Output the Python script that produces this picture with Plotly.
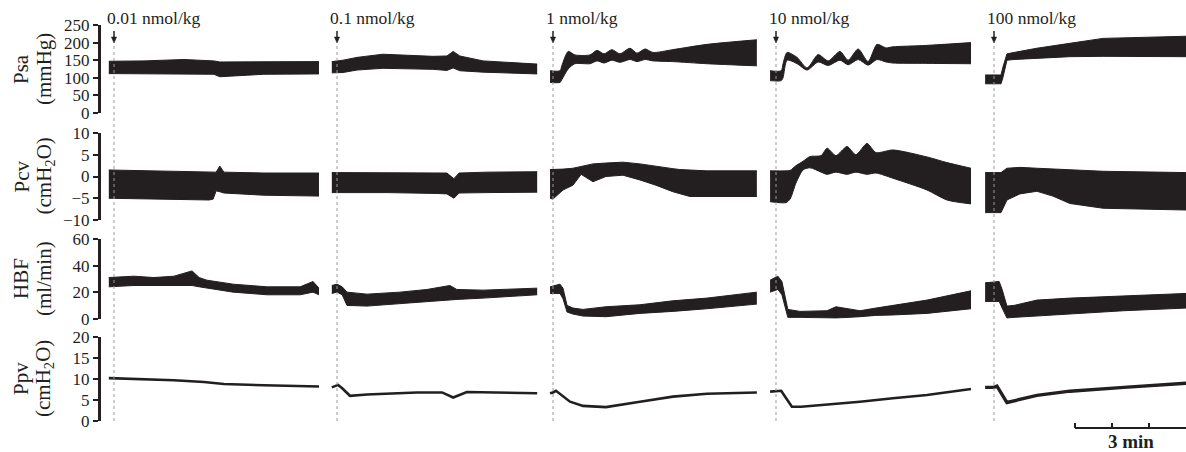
import plotly.graph_objects as go

# ---------------- data (time in minutes relative to each injection) ----------------
doses = ["0.01 nmol/kg", "0.1 nmol/kg", "1 nmol/kg", "10 nmol/kg", "100 nmol/kg"]

# Psa (mmHg): upper / lower envelope of the pulsatile trace
psa_time = [
    [-0.14, 0.81, 1.89, 2.70, 2.86, 4.05, 5.54],
    [-0.14, 0.16, 0.54, 1.24, 2.59, 2.97, 3.14, 3.32, 3.95, 5.41],
    [-0.08, 0.19, 0.24, 0.41, 0.59, 1.00, 1.19, 1.38, 1.59, 1.81, 2.08, 2.27, 2.49, 2.70, 3.24, 4.16, 5.51],
    [-0.16, 0.14, 0.19, 0.30, 0.57, 0.84, 1.14, 1.41, 1.73, 1.95, 2.22, 2.49, 2.73, 2.97, 3.16, 4.05, 5.27],
    [-0.24, 0.19, 0.24, 0.35, 0.54, 1.16, 2.05, 2.95, 5.19],
]
psa_upper = [
    [147, 148, 152, 148, 145, 146, 146],
    [146, 150, 158, 167, 161, 162, 175, 162, 148, 139],
    [120, 120, 135, 175, 165, 165, 178, 168, 180, 168, 184, 170, 182, 172, 180, 195, 208],
    [120, 120, 140, 172, 158, 128, 166, 148, 175, 150, 182, 146, 195, 185, 188, 192, 200],
    [108, 108, 130, 168, 172, 184, 198, 212, 218],
]
psa_lower = [
    [112, 112, 112, 110, 103, 110, 111],
    [114, 115, 122, 127, 124, 121, 128, 120, 116, 111],
    [87, 87, 95, 125, 140, 140, 148, 142, 150, 144, 152, 146, 152, 148, 146, 140, 134],
    [92, 92, 100, 150, 140, 122, 145, 135, 150, 137, 152, 136, 152, 145, 142, 141, 140],
    [83, 83, 100, 150, 152, 156, 160, 161, 160],
]

# Pcv (cmH2O)
pcv_time = [
    [-0.14, 1.35, 2.57, 2.68, 2.76, 2.86, 2.97, 4.05, 5.54],
    [-0.14, 1.35, 2.70, 2.97, 3.16, 3.30, 4.05, 5.41],
    [-0.08, 0.00, 0.27, 0.54, 0.76, 0.95, 1.08, 1.43, 1.89, 2.35, 2.78, 3.24, 3.43, 3.70, 4.16, 5.51],
    [-0.16, 0.27, 0.38, 0.54, 0.73, 0.92, 1.22, 1.38, 1.62, 1.92, 2.16, 2.46, 2.70, 3.16, 4.08, 4.62, 5.27],
    [-0.24, 0.19, 0.35, 0.70, 1.16, 1.59, 2.05, 2.95, 5.19],
]
pcv_upper = [
    [1.5, 1.3, 1.1, 1.0, 1.0, 2.4, 1.0, 0.8, 0.8],
    [0.9, 0.8, 0.8, 0.8, -0.5, 0.8, 1.0, 1.1],
    [1.6, 1.6, 1.7, 1.9, 2.3, 2.6, 2.9, 3.1, 3.3, 2.9, 2.3, 1.8, 1.6, 1.5, 1.3, 1.3],
    [1.3, 1.3, 1.4, 2.5, 3.5, 4.6, 4.8, 6.5, 4.8, 6.9, 5.0, 7.6, 5.5, 6.1, 4.5, 3.2, 1.9],
    [0.9, 0.9, 1.9, 2.1, 1.9, 1.7, 1.5, 1.2, 0.9],
]
pcv_lower = [
    [-5.0, -5.2, -5.4, -5.2, -3.3, -3.5, -3.8, -4.3, -4.5],
    [-3.7, -3.7, -3.9, -4.0, -5.0, -3.8, -3.7, -3.6],
    [-5.0, -5.2, -3.1, -2.0, 0.5, -0.5, -1.2, 0.0, 0.3, -0.8, -2.0, -3.5, -4.0, -4.6, -4.6, -4.6],
    [-5.8, -6.0, -5.2, -1.5, 1.5, 2.0, 1.0, 0.5, 1.0, 0.5, 1.0, 0.5, 0.8, -0.4, -3.1, -5.4, -6.3],
    [-8.3, -8.3, -5.4, -4.0, -3.4, -4.5, -6.2, -7.3, -7.7],
]

# HBF (ml/min)
hbf_time = [
    [-0.14, 0.54, 1.08, 1.62, 2.11, 2.30, 2.51, 3.22, 4.14, 5.03, 5.38, 5.54],
    [-0.14, 0.00, 0.14, 0.27, 0.81, 1.70, 2.43, 3.05, 3.24, 3.95, 5.41],
    [-0.08, 0.19, 0.27, 0.38, 0.54, 0.81, 1.43, 2.35, 3.24, 4.16, 5.51],
    [-0.16, 0.05, 0.16, 0.32, 0.65, 1.38, 1.62, 2.27, 2.70, 3.16, 4.08, 5.27],
    [-0.24, 0.14, 0.22, 0.35, 0.54, 1.16, 2.05, 3.51, 5.19],
]
hbf_upper = [
    [31, 32, 31, 32, 36, 31, 29, 26, 24, 24, 28, 23],
    [25, 26, 24, 20, 18.5, 20, 22, 25, 22, 21.5, 23],
    [24, 26, 23, 10, 8, 7, 9, 10.5, 13.5, 15.5, 20],
    [29, 32, 28, 7, 5.5, 6, 9, 6, 8, 10, 14, 21],
    [27, 28, 22, 9.5, 10, 14, 15.5, 17, 19],
]
hbf_lower = [
    [24, 25, 25, 25, 25, 24, 23, 20, 18, 18, 20, 18],
    [19, 20, 18, 10, 9.5, 11.5, 13, 14, 14.5, 15.5, 18],
    [19, 19, 15, 5, 3.5, 2, 1.5, 4, 5.5, 7.5, 11],
    [20, 22, 18, 1, 1, 1, 0.5, 1.5, 2.5, 2.8, 4, 7.5],
    [13, 13, 8, 0.5, 1, 2, 4, 6, 8],
]

# Ppv (cmH2O)
ppv_time = [
    [-0.14, 0.81, 1.62, 2.43, 2.97, 4.05, 5.54],
    [-0.14, 0.03, 0.14, 0.35, 0.81, 2.16, 2.84, 3.14, 3.51, 5.41],
    [-0.08, 0.00, 0.08, 0.22, 0.46, 0.81, 1.43, 2.35, 3.24, 4.16, 5.51],
    [-0.16, 0.14, 0.27, 0.43, 0.68, 1.38, 2.27, 3.16, 4.08, 5.27],
    [-0.24, 0.00, 0.08, 0.35, 1.16, 2.05, 3.51, 5.19],
]
ppv_value = [
    [10.2, 10.0, 9.7, 9.3, 8.8, 8.5, 8.2],
    [8.0, 8.6, 7.8, 6.0, 6.3, 6.8, 6.8, 5.6, 6.9, 6.6],
    [6.6, 6.8, 7.2, 6.2, 4.6, 3.6, 3.3, 4.6, 5.8, 6.5, 6.8],
    [7.0, 7.2, 5.5, 3.4, 3.4, 3.9, 4.6, 5.4, 6.2, 7.6],
    [8.0, 8.0, 8.3, 4.4, 6.1, 7.1, 8.0, 9.0],
]

psa_ticks = [0, 50, 100, 150, 200, 250]
pcv_ticks = [-10, -5, 0, 5, 10]
hbf_ticks = [0, 20, 40, 60]
ppv_ticks = [0, 5, 10, 15, 20]

scale_bar_minutes = 3

# ---------------- layout constants ----------------
W, H = 1186, 452
INK = "#231f20"
FONT = "Liberation Serif"
MIN_PER_PX = 1 / 37.0
X_MAX = W * MIN_PER_PX
PANEL_X = [114 * MIN_PER_PX, 337 * MIN_PER_PX, 553 * MIN_PER_PX, 776 * MIN_PER_PX, 994 * MIN_PER_PX]
SMOOTH = {("psa", 2), ("psa", 3), ("pcv", 3)}


def py(p):  # pixel row -> paper fraction
    return (H - p) / H


def px(p):
    return p / W


fig = go.Figure()


def band(t, hi, lo, off, yax, smooth):
    xs = [off + v for v in t]
    shape = "spline" if smooth else "linear"
    fig.add_trace(go.Scatter(x=xs, y=lo, mode="lines", line=dict(color=INK, width=1, shape=shape, smoothing=0.7),
                             yaxis=yax, hoverinfo="skip", showlegend=False))
    fig.add_trace(go.Scatter(x=xs, y=hi, mode="lines", fill="tonexty", fillcolor=INK,
                             line=dict(color=INK, width=1, shape=shape, smoothing=0.7), yaxis=yax,
                             hoverinfo="skip", showlegend=False))


for i in range(5):
    off = PANEL_X[i]
    band(psa_time[i], psa_upper[i], psa_lower[i], off, "y", ("psa", i) in SMOOTH)
    band(pcv_time[i], pcv_upper[i], pcv_lower[i], off, "y2", ("pcv", i) in SMOOTH)
    band(hbf_time[i], hbf_upper[i], hbf_lower[i], off, "y3", False)
    fig.add_trace(go.Scatter(x=[off + v for v in ppv_time[i]], y=ppv_value[i], mode="lines",
                             line=dict(color=INK, width=2.6 if i < 4 else 3.4), yaxis="y4",
                             hoverinfo="skip", showlegend=False))

axis_common = dict(anchor="free", position=px(99), showline=True, linewidth=3, linecolor=INK,
                   ticks="outside", ticklen=5, tickwidth=2, tickcolor=INK, showgrid=False,
                   zeroline=False, automargin=False, fixedrange=True,
                   tickfont=dict(family=FONT, size=17, color=INK))

fig.update_layout(
    width=W, height=H, autosize=False, margin=dict(l=0, r=0, t=0, b=0, pad=0, autoexpand=False),
    paper_bgcolor="white", plot_bgcolor="white",
    xaxis=dict(domain=[0, 1], range=[0, X_MAX], visible=False, automargin=False, fixedrange=True),
    yaxis=dict(domain=[py(113), py(25)], range=[0, 250], tickvals=psa_ticks, **axis_common),
    yaxis2=dict(domain=[py(220), py(133)], range=[-10, 10], tickvals=pcv_ticks, **axis_common),
    yaxis3=dict(domain=[py(318.7), py(239)], range=[0, 60], tickvals=hbf_ticks, **axis_common),
    yaxis4=dict(domain=[py(421), py(337)], range=[0, 20], tickvals=ppv_ticks, **axis_common),
)

ann = []
titles = [("Psa", "(mmHg)", 69), ("Pcv", "(cmH<sub>2</sub>O)", 176.5),
          ("HBF", "(ml/min)", 279), ("Ppv", "(cmH<sub>2</sub>O)", 379)]
for t1, t2, yc in titles:
    for txt, xc in ((t1, 21), (t2, 44)):
        ann.append(dict(text=txt, xref="paper", yref="paper", x=px(xc), y=py(yc),
                        xanchor="center", yanchor="middle", textangle=-90, showarrow=False,
                        font=dict(family=FONT, size=21, color=INK)))

shapes = []
AH = 0.07  # arrow head half-width (minutes)
for i in range(5):
    xi = PANEL_X[i]
    ann.append(dict(text=doses[i], xref="x", yref="paper", x=xi, y=py(18),
                    xanchor="left", yanchor="middle", xshift=-9, showarrow=False,
                    font=dict(family=FONT, size=17.5, color=INK)))
    shapes.append(dict(type="line", xref="x", yref="paper", x0=xi, x1=xi, y0=py(31), y1=py(38),
                       line=dict(color=INK, width=1.5)))
    shapes.append(dict(type="path", xref="x", yref="paper",
                       path=f"M {xi - AH},{py(37)} L {xi + AH},{py(37)} L {xi},{py(43)} Z",
                       fillcolor=INK, line=dict(color=INK, width=0.5)))
    shapes.append(dict(type="line", xref="x", yref="paper", x0=xi, x1=xi,
                       y0=py(421), y1=py(45), line=dict(color="#9a9a9a", width=1, dash="3px,3px")))

# scale bar (3 min)
sb0 = X_MAX - scale_bar_minutes
shapes.append(dict(type="line", xref="x", yref="paper", x0=sb0, x1=X_MAX + 0.2,
                   y0=py(428), y1=py(428), line=dict(color=INK, width=2.2)))
for k in range(scale_bar_minutes):
    shapes.append(dict(type="line", xref="x", yref="paper", x0=sb0 + k, x1=sb0 + k,
                       y0=py(428), y1=py(423), line=dict(color=INK, width=2)))
ann.append(dict(text="<b>3 min</b>", xref="x", yref="paper", x=sb0 + scale_bar_minutes / 2,
                y=py(441), xanchor="center", yanchor="middle", showarrow=False,
                font=dict(family=FONT, size=19, color=INK)))

fig.update_layout(annotations=ann, shapes=shapes)
fig.write_html("out.html", config={"displayModeBar": False, "staticPlot": True},
               post_script="document.body.style.margin='0';document.body.style.overflow='hidden';")
